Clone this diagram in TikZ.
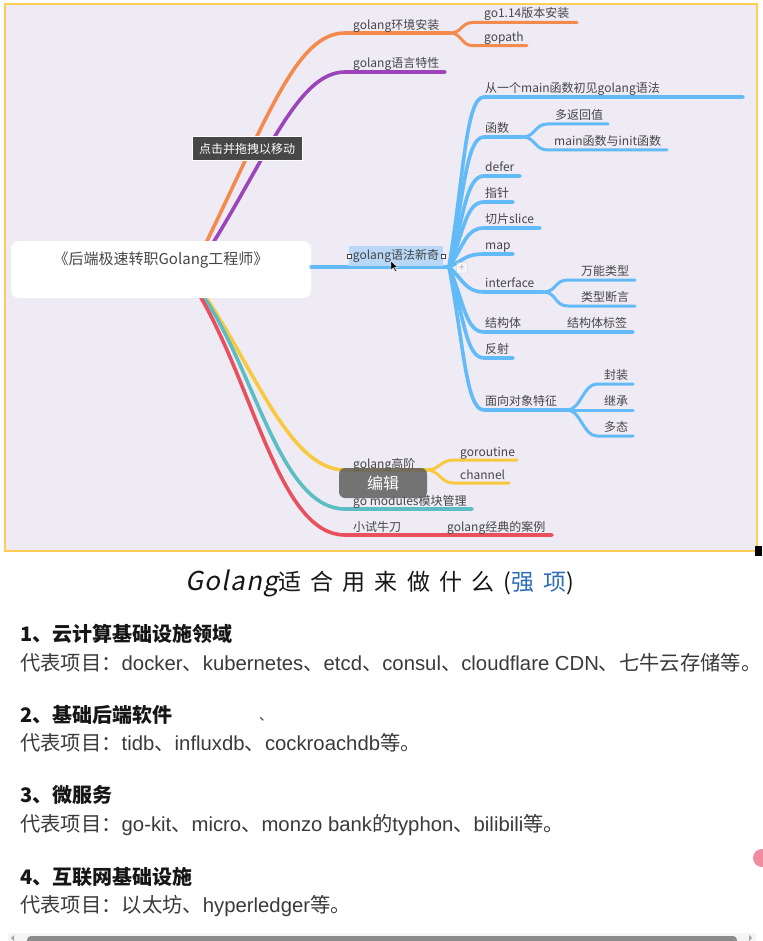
\documentclass[tikz,border=0pt]{standalone}
\usepackage{fontspec}
\setmainfont{Noto Sans CJK SC}
\newfontfamily\handfont[FakeSlant=0.2, LetterSpace=5]{Noto Sans CJK SC}
\newfontfamily\titlefont[LetterSpace=40]{Noto Sans CJK SC}
\newfontfamily\lat{Liberation Sans}
\usetikzlibrary{positioning}

\definecolor{panelbg}{HTML}{EEEBF4}
\definecolor{panelborder}{HTML}{FDCD55}
\definecolor{brOrange}{HTML}{F48A4E}
\definecolor{brPurple}{HTML}{9C45BA}
\definecolor{brBlue}{HTML}{62BAF6}
\definecolor{brYellow}{HTML}{F8C940}
\definecolor{brTeal}{HTML}{5CBDC2}
\definecolor{brRed}{HTML}{E8505E}
\definecolor{ink}{HTML}{464646}
\definecolor{selblue}{HTML}{B9D7F7}
\definecolor{tipgray}{HTML}{474747}
\definecolor{editgray}{HTML}{5E5E5E}
\definecolor{headink}{HTML}{161616}
\definecolor{bodyink}{HTML}{3A3A3A}
\definecolor{strongblue}{HTML}{2F6DB5}
\definecolor{pinkdot}{HTML}{F08CA2}
\definecolor{scrollgray}{HTML}{8C8C8C}

\begin{document}
\begin{tikzpicture}[x=1pt, y=-1pt,
    topic/.style={anchor=base west, inner sep=0pt, text=ink, font=\fontsize{12}{14}\selectfont},
    mainbr/.style={line width=3.6pt, line cap=round},
    subbr/.style={line width=3pt, line cap=round},
    rootbox/.style={fill=white, rounded corners=8pt, minimum width=300pt, minimum height=57pt, inner sep=0pt},
    handle/.style={draw=ink, fill=white, line width=0.6pt, minimum size=4pt, inner sep=0pt},
    headline/.style={anchor=base west, inner sep=0pt, text=headink, font=\fontsize{20}{24}\selectfont\bfseries},
    bodyline/.style={anchor=base west, inner sep=0pt, text=bodyink, font=\fontsize{20.3}{24}\selectfont}
]
\useasboundingbox (0,0) rectangle (762,941);

% ---- page and mind map panel ----
\fill[white] (0,0) rectangle (762,941);
\draw[panelborder, line width=2pt, fill=panelbg] (5,4) rectangle (757,551);
\fill[black] (755,546) rectangle (762,556);

% ---- branches out of the root ----
\coordinate (rt-o) at (206,243);
\coordinate (rt-p) at (213,243);
\coordinate (rt-y) at (205,296);
\coordinate (rt-t) at (203,296);
\coordinate (rt-r) at (200,296);

% orange: environment
\coordinate (env-s) at (345,33);
\coordinate (env-j) at (450,33);
\draw[mainbr, brOrange] (rt-o) .. controls (270,111) and (298,33) .. (env-s) -- (env-j);
\node[topic] (env) at (353,30) {golang环境安装};
\foreach \n/\y/\xe/\t in {go114/22.5/577/go1.14版本安装, gopath/45.7/527/gopath} {
  \node[topic] (\n) at (484,\y-4.5) {\t};
  \coordinate (\n-s) at (473,\y);
  \coordinate (\n-e) at (\xe,\y);
  \draw[subbr, brOrange] (env-j) .. controls +(12,0) and +(-12,0) .. (\n-s) -- (\n-e);
}

% purple: language features
\coordinate (feat-s) at (345,72);
\coordinate (feat-e) at (445,72);
\draw[mainbr, brPurple] (rt-p) .. controls (270,150) and (300,72) .. (feat-s) -- (feat-e);
\node[topic] (feat) at (353,68) {golang语言特性};

% yellow: advanced
\coordinate (adv-s) at (345,470);
\coordinate (adv-j) at (427,470);
\draw[mainbr, brYellow] (rt-y) .. controls (255,370) and (290,470) .. (adv-s) -- (adv-j);
\node[topic] (adv) at (353,468) {golang高阶};
\foreach \n/\y/\xe/\t in {gor/460/517/goroutine, chan/483/509/channel} {
  \node[topic] (\n) at (460,\y-4) {\t};
  \coordinate (\n-s) at (453,\y);
  \coordinate (\n-e) at (\xe,\y);
  \draw[subbr, brYellow] (adv-j) .. controls +(12,0) and +(-12,0) .. (\n-s) -- (\n-e);
}

% teal: modules
\coordinate (mod-s) at (345,509);
\coordinate (mod-e) at (472,509);
\draw[mainbr, brTeal] (rt-t) .. controls (255,370) and (280,509) .. (mod-s) -- (mod-e);
\node[topic] (mod) at (353,505) {go modules模块管理};

% red: practice
\coordinate (case-s) at (345,535);
\coordinate (case-e) at (552,535);
\draw[mainbr, brRed] (rt-r) .. controls (255,390) and (280,535) .. (case-s) -- (case-e);
\node[topic] (try) at (353,531) {小试牛刀};
\node[topic] (case) at (447,531) {golang经典的案例};

% ---- root ----
\node[rootbox] (root) at (161,269.5) {};
\node[inner sep=0pt, text=ink, font=\fontsize{15}{18}\selectfont] (roottitle) at (161,260) {《后端极速转职Golang工程师》};

% ---- blue: syntax ----
\coordinate (hub) at (449,267);
\draw[mainbr, brBlue] (root.east |- hub) -- (hub);
\foreach \n/\y/\xe/\t in {
    main/97/743/{从一个main函数初见golang语法},
    defer/176/520/defer, ptr/202/513/指针, slice/228/540/切片slice,
    map/254/513/map, struct/332/633/结构体, refl/358/513/反射}
{
  \node[topic] (\n) at (485,\y-4.5) {\t};
  \coordinate (\n-s) at (484,\y);
  \coordinate (\n-e) at (\xe,\y);
  \draw[mainbr, brBlue] (hub) .. controls +(15,{0.55*(\y-267)}) and +(-18,0) .. (\n-s) -- (\n-e);
}
\foreach \n/\y/\xj/\t in {func/137/522/函数, iface/292/543/interface, oop/410/567/面向对象特征} {
  \node[topic] (\n) at (485,\y-4.5) {\t};
  \coordinate (\n-s) at (484,\y);
  \coordinate (\n-j) at (\xj,\y);
  \draw[mainbr, brBlue] (hub) .. controls +(15,{0.55*(\y-267)}) and +(-18,0) .. (\n-s) -- (\n-j);
}
\foreach \p/\n/\y/\xs/\xt/\xe/\t in {
    func/ret/124/548/555/608/多返回值,
    func/init/150/548/554/667/{main函数与init函数},
    iface/any/280/568/581/635/万能类型,
    iface/assert/306/568/581/635/类型断言,
    oop/encap/384/597/604/633/封装,
    oop/inherit/410/597/604/633/继承,
    oop/poly/436/597/604/633/多态}
{
  \node[topic] (\n) at (\xt,\y-4.5) {\t};
  \coordinate (\n-s) at (\xs,\y);
  \coordinate (\n-e) at (\xe,\y);
  \draw[subbr, brBlue] (\p-j) .. controls +(14,0) and +(-14,0) .. (\n-s) -- (\n-e);
}
\node[topic] (tag) at (567,327.5) {结构体标签};

% selected topic with handles, plus button and cursor
\node[fill=selblue, minimum width=94pt, minimum height=20pt, inner sep=0pt, text=ink,
      font=\fontsize{12}{14}\selectfont] (syn) at (396,256) {golang语法新奇};
\node[handle] (syn-l) at (syn.west) {};
\node[handle] (syn-r) at (syn.east) {};
\node[draw=gray!45, fill=white, fill opacity=0.5, text opacity=1, rounded corners=2pt,
      minimum size=11pt, inner sep=0pt, text=gray!60, font=\fontsize{11}{11}\selectfont] (plus) at (462,268) {+};
\filldraw[black, draw=white, line width=0.4pt] (391,261) -- ++(0,9) -- ++(2.3,-2.2) -- ++(2,3.8)
    -- ++(1.3,-0.6) -- ++(-2,-3.6) -- ++(3.2,0) -- cycle;

% overlays
\node[fill=tipgray, draw=white, line width=1pt, minimum width=110pt, minimum height=24pt, inner sep=0pt,
      text=white, font=\fontsize{12}{14}\selectfont] (tip) at (247,149) {点击并拖拽以移动};
\node[fill=editgray, fill opacity=0.85, text opacity=1, rounded corners=6pt, minimum width=88pt,
      minimum height=30pt, inner sep=0pt, text=white, font=\fontsize{16}{18}\selectfont] (edit) at (383,483) {编辑};

% ---- strengths text ----
\node[anchor=base, inner sep=0pt, text=headink, font=\fontsize{23}{26}\selectfont\titlefont] (q) at (380,590)
    {{\fontsize{26}{26}\selectfont\handfont Golang}适合用来做什么(\textcolor{strongblue}{强项})};

\node[headline] (h1) at (20,641.5) {1、云计算基础设施领域};
\node[bodyline] (l1) at (20,670.5) {代表项目：{\lat docker}、{\lat kubernetes}、{\lat etcd}、{\lat consul}、{\lat cloudflare CDN}、七牛云存储等。};
\node[headline] (h2) at (20,722.5) {2、基础后端软件};
\node[inner sep=0pt, text=bodyink, font=\fontsize{14}{16}\selectfont] (stray) at (266,719) {、};
\node[bodyline] (l2) at (20,750.5) {代表项目：{\lat tidb}、{\lat influxdb}、{\lat cockroachdb}等。};
\node[headline] (h3) at (20,802.5) {3、微服务};
\node[bodyline] (l3) at (20,831.5) {代表项目：{\lat go-kit}、{\lat micro}、{\lat monzo bank}的{\lat typhon}、{\lat bilibili}等。};
\node[headline] (h4) at (20,884.5) {4、互联网基础设施};
\node[bodyline] (l4) at (20,912.5) {代表项目：以太坊、{\lat hyperledger}等。};

% side button and scroll bar
\fill[white] (762,858) circle (11);
\fill[pinkdot] (762,858) circle (9);
\fill[gray!8] (8,933) rectangle (756,941);
\fill[scrollgray, rounded corners=4pt] (27,936) rectangle (737,948);
\fill[gray!70] (11,938) -- (14,935) -- (14,941) -- cycle;
\fill[gray!70] (752,938) -- (749,935) -- (749,941) -- cycle;

\end{tikzpicture}
\end{document}
